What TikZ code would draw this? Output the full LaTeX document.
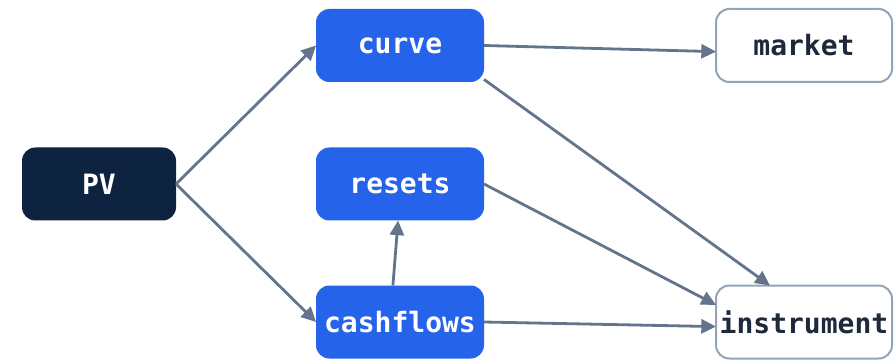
\documentclass[tikz,border=0pt]{standalone}
\usepackage{fontspec}
\setmonofont{DejaVu Sans Mono}
\usetikzlibrary{arrows.meta}

\definecolor{navybox}{HTML}{0E2340}
\definecolor{bluebox}{HTML}{2563EB}
\definecolor{edgegray}{HTML}{64748B}
\definecolor{framegray}{HTML}{94A3B8}
\definecolor{inktext}{HTML}{1E293B}

\tikzset{every picture/.style={line width=0.75pt}}
\tikzset{
  basebox/.style={rounded corners=10pt, inner sep=0pt, outer sep=0pt, minimum height=54.75pt,
    font=\fontsize{21pt}{23pt}\selectfont\ttfamily\bfseries},
  rootbox/.style={basebox, fill=navybox, text=white, minimum width=115.5pt},
  calcbox/.style={basebox, fill=bluebox, text=white, minimum width=126pt},
  inputbox/.style={basebox, draw=framegray, line width=1.5pt, fill=white, text=inktext, minimum width=132pt},
  dep/.style={draw=edgegray, line width=2.1pt, -{Triangle[length=11pt,width=10.5pt]}},
}

\begin{document}
\begin{tikzpicture}[x=0.75pt,y=0.75pt,yscale=-1,xscale=1]
        \useasboundingbox (0,0) rectangle (894,360); %set diagram size 894 x 360

        %Shape: Rounded Rectangles
        \node [rootbox]  (pv)         at (99,184)  {PV};
        \node [calcbox]  (curve)      at (400,45.5) {curve};
        \node [calcbox]  (resets)     at (400,184) {resets};
        \node [calcbox]  (cashflows)  at (400,322) {cashflows};
        \node [inputbox] (market)     at (804,45.5) {market};
        \node [inputbox] (instrument) at (804,322) {instrument};

        %Straight Lines
        \draw [dep] (pv.east) -- (curve.west);
        \draw [dep] (pv.east) -- (cashflows.west);
        \draw [dep] (curve.east) -- (market.184);
        \draw [dep] (curve.-22) -- (instrument.133);
        \draw [dep] (resets.east) -- (instrument.169);
        \draw [dep] (cashflows.101) -- (resets.267);
        \draw [dep] (cashflows.east) -- (instrument.183);
\end{tikzpicture}
\end{document}
